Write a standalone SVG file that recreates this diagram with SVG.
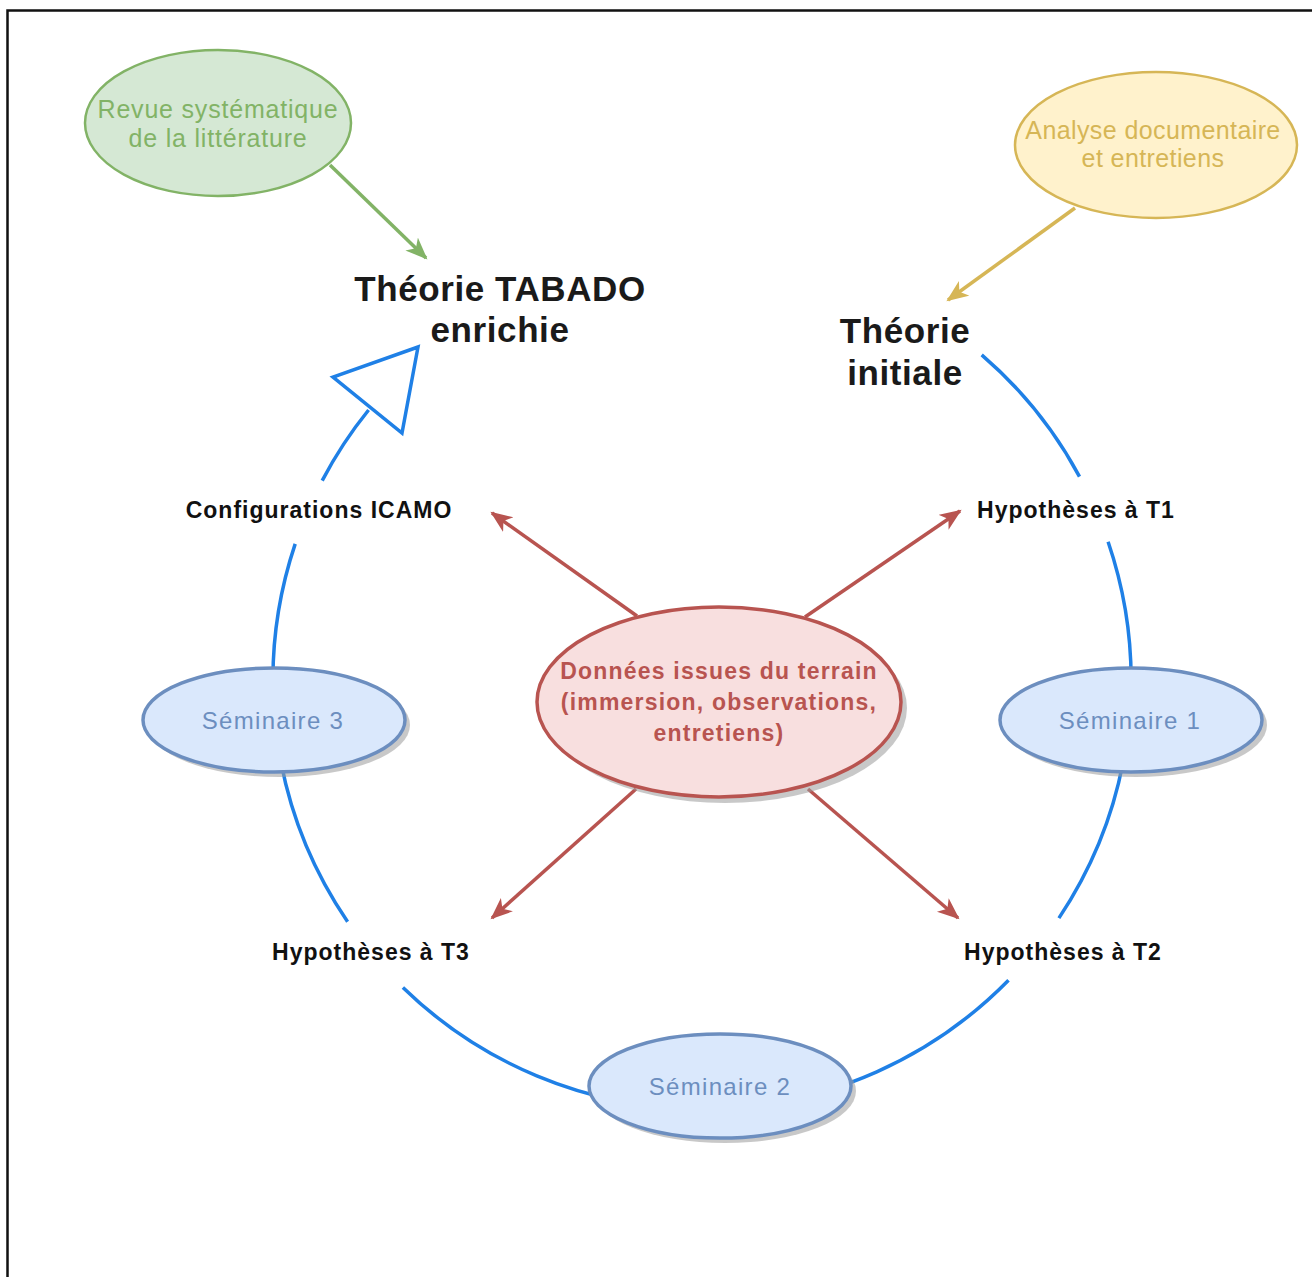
<svg xmlns="http://www.w3.org/2000/svg" width="1312" height="1277" viewBox="0 0 1312 1277">
<style>
text{font-family:"Liberation Sans",Arial,sans-serif;text-anchor:middle}
.lbl{font-size:23px;font-weight:bold;fill:#111;letter-spacing:1px}
.title{font-size:35px;font-weight:bold;fill:#1a1a1a;letter-spacing:0.6px}
.sem{fill:#dae8fc;stroke:#6c8ebf;stroke-width:3.5}
.semt{font-size:24px;fill:#6c8ebf;letter-spacing:1.3px}
.shadow{fill:#9a9a9a;opacity:0.55}
.cyc{fill:none;stroke:#1f80e6;stroke-width:3.5}
.red{stroke:#b85450;stroke-width:3.5;fill:none}
.dt{font-size:23px;font-weight:bold;fill:#b85450;letter-spacing:1.2px}
</style>
<defs>
<marker id="ar" markerUnits="userSpaceOnUse" markerWidth="24" markerHeight="20" refX="20" refY="9" orient="auto"><path d="M0,0 L22,9 L0,18 L6,9 Z" fill="#b85450"/></marker>
<marker id="ag" markerUnits="userSpaceOnUse" markerWidth="24" markerHeight="20" refX="20" refY="9" orient="auto"><path d="M0,0 L22,9 L0,18 L6,9 Z" fill="#82b366"/></marker>
<marker id="ay" markerUnits="userSpaceOnUse" markerWidth="24" markerHeight="20" refX="20" refY="9" orient="auto"><path d="M0,0 L22,9 L0,18 L6,9 Z" fill="#d6b656"/></marker>
</defs>
<rect x="0" y="0" width="1312" height="1277" fill="#fff"/>
<rect x="7.5" y="10.5" width="1330" height="1300" fill="none" stroke="#111" stroke-width="2.5"/>

<g id="connectors">
<path class="cyc" d="M981.7,354.8 A429,429 0 0 1 1079.5,476.6"/>
<path class="cyc" d="M1108.1,541.7 A429,429 0 0 1 1058.9,918.1"/>
<path class="cyc" d="M1008.5,980.2 A429,429 0 0 1 402.9,987.5"/>
<path class="cyc" d="M347.6,921.7 A429,429 0 0 1 295.2,543.9"/>
<path class="cyc" d="M322.2,480.6 A429,429 0 0 1 368.6,410"/>
<polygon points="418,347 333,377 402,433" fill="#fff" stroke="#1f80e6" stroke-width="3.5" stroke-linejoin="miter"/>
<line class="red" x1="637" y1="616" x2="492" y2="513" marker-end="url(#ar)"/>
<line class="red" x1="805" y1="617" x2="960" y2="511" marker-end="url(#ar)"/>
<line class="red" x1="636" y1="789" x2="492" y2="918" marker-end="url(#ar)"/>
<line class="red" x1="808" y1="789" x2="958" y2="918" marker-end="url(#ar)"/>
<line x1="330" y1="165" x2="426" y2="258" stroke="#82b366" stroke-width="3.5" marker-end="url(#ag)"/>
<line x1="1075" y1="208" x2="948" y2="300" stroke="#d6b656" stroke-width="3.5" marker-end="url(#ay)"/>
</g>

<g id="revue">
<ellipse cx="218" cy="123" rx="133" ry="73" fill="#d5e8d4" stroke="#82b366" stroke-width="2.5"/>
<text x="218" y="118" font-size="25" fill="#82b366" letter-spacing="0.8">Revue systématique</text>
<text x="218" y="147" font-size="25" fill="#82b366" letter-spacing="0.8">de la littérature</text>
</g>

<g id="analyse">
<ellipse cx="1156" cy="145" rx="141" ry="73" fill="#fff2cc" stroke="#d6b656" stroke-width="2.5"/>
<text x="1153" y="139" font-size="25" fill="#d6b656" letter-spacing="0.4">Analyse documentaire</text>
<text x="1153" y="167" font-size="25" fill="#d6b656" letter-spacing="0.4">et entretiens</text>
</g>

<g id="theorie-enrichie">
<text class="title" x="500" y="301">Théorie TABADO</text>
<text class="title" x="500" y="342">enrichie</text>
</g>

<g id="theorie-initiale">
<text class="title" x="905" y="343">Théorie</text>
<text class="title" x="905" y="385">initiale</text>
</g>

<g id="config">
<text class="lbl" x="319" y="518">Configurations ICAMO</text>
</g>
<g id="hyp1">
<text class="lbl" x="1076" y="518">Hypothèses à T1</text>
</g>
<g id="hyp3">
<text class="lbl" x="371" y="960">Hypothèses à T3</text>
</g>
<g id="hyp2">
<text class="lbl" x="1063" y="960">Hypothèses à T2</text>
</g>

<g id="donnees">
<ellipse cx="725" cy="708" rx="182" ry="95" class="shadow"/>
<ellipse cx="719" cy="702" rx="182" ry="95" fill="#f8dfdf" stroke="#b85450" stroke-width="3.5"/>
<text class="dt" x="719" y="679">Données issues du terrain</text>
<text class="dt" x="719" y="710">(immersion, observations,</text>
<text class="dt" x="719" y="741">entretiens)</text>
</g>

<g id="seminaire3">
<ellipse cx="279" cy="725" rx="131" ry="52" class="shadow"/>
<ellipse cx="274" cy="720" rx="131" ry="52" class="sem"/>
<text class="semt" x="273" y="729">Séminaire 3</text>
</g>
<g id="seminaire1">
<ellipse cx="1136" cy="725" rx="131" ry="52" class="shadow"/>
<ellipse cx="1131" cy="720" rx="131" ry="52" class="sem"/>
<text class="semt" x="1130" y="729">Séminaire 1</text>
</g>
<g id="seminaire2">
<ellipse cx="725" cy="1091" rx="131" ry="52" class="shadow"/>
<ellipse cx="720" cy="1086" rx="131" ry="52" class="sem"/>
<text class="semt" x="720" y="1095">Séminaire 2</text>
</g>
</svg>
